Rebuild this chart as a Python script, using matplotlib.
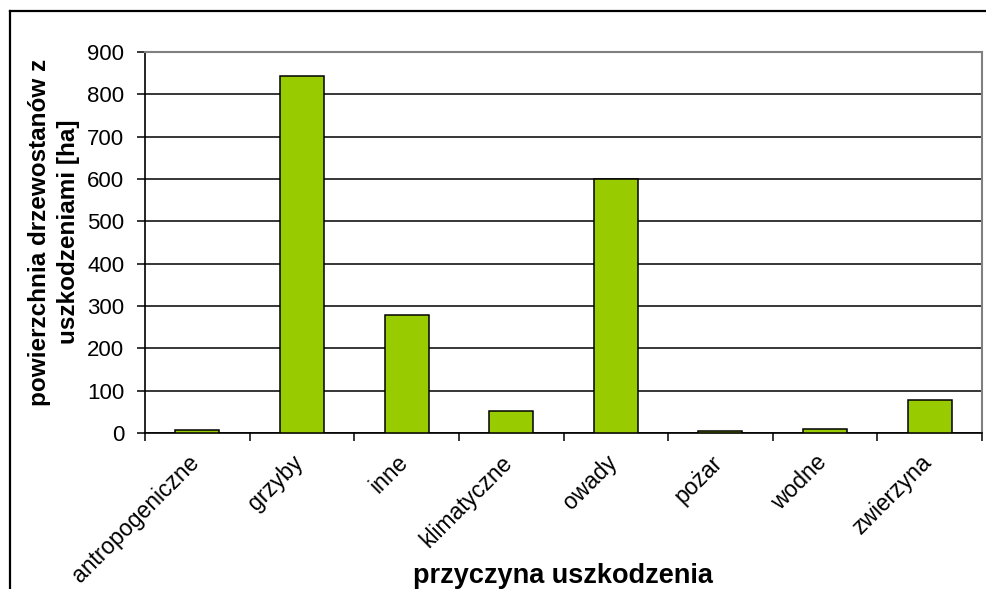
import matplotlib.pyplot as plt
from matplotlib.lines import Line2D
from matplotlib.transforms import ScaledTranslation
import numpy as np

plt.rcParams['font.family'] = ['Liberation Sans', 'DejaVu Sans']

przyczyny = ['antropogeniczne', 'grzyby', 'inne', 'klimatyczne',
             'owady', 'pożar', 'wodne', 'zwierzyna']
powierzchnia = [8, 844, 278, 51, 600, 4, 9, 77]
y_ticks = [0, 100, 200, 300, 400, 500, 600, 700, 800, 900]

fig = plt.figure(figsize=(9.86, 5.89), dpi=100)
ax = fig.add_axes([145 / 986, 1 - 433 / 589, 837 / 986, 381 / 589])

x = np.arange(len(przyczyny))
ax.bar(x, powierzchnia, width=0.42, color='#99CC00', edgecolor='black',
       linewidth=1.1, zorder=3)

ax.set_xlim(-0.5, len(przyczyny) - 0.5)
ax.set_ylim(0, 900)
ax.set_yticks(y_ticks)
ax.set_xticks(np.arange(len(przyczyny) + 1) - 0.5)
ax.set_xticklabels([])
ax.tick_params(axis='x', length=6, width=1.1, direction='out')
ax.tick_params(axis='y', length=6, width=1.1, pad=9, labelsize=16)

# category names, rotated, ending just under the middle of each category
lbl_trans = ax.get_xaxis_transform() + ScaledTranslation(-10 / 100, -18 / 100,
                                                         fig.dpi_scale_trans)
for xi, name in zip(x, przyczyny):
    ax.text(xi, 0, name, transform=lbl_trans, rotation=45, ha='right',
            va='top', rotation_mode='anchor', fontsize=16.5)

# horizontal grid, the top line is drawn by the grey frame
ax.yaxis.grid(True, color='black', linewidth=1.1)
ax.set_axisbelow(True)
ax.get_ygridlines()[-1].set_visible(False)

for side in ['left', 'bottom']:
    ax.spines[side].set_color('black')
    ax.spines[side].set_linewidth(1.2)
for side in ['top', 'right']:
    ax.spines[side].set_color('#808080')
    ax.spines[side].set_linewidth(1.5)

fig.text(54 / 986, 1 - 232 / 589, 'powierzchnia drzewostanów z\nuszkodzeniami [ha]',
         rotation=90, ha='center', va='center', fontsize=17.5,
         fontweight='bold', linespacing=1.35)
fig.text(563 / 986, 1 - 583 / 589, 'przyczyna uszkodzenia', ha='center',
         va='baseline', fontsize=19.5, fontweight='bold')

# outer chart frame (left and top edges)
fig.add_artist(Line2D([10 / 986, 10 / 986], [0, 1 - 11 / 589],
                      transform=fig.transFigure, color='black', linewidth=1.6))
fig.add_artist(Line2D([10 / 986, 1], [1 - 11 / 589, 1 - 11 / 589],
                      transform=fig.transFigure, color='black', linewidth=1.6))

fig.savefig('out.png', dpi=100)
